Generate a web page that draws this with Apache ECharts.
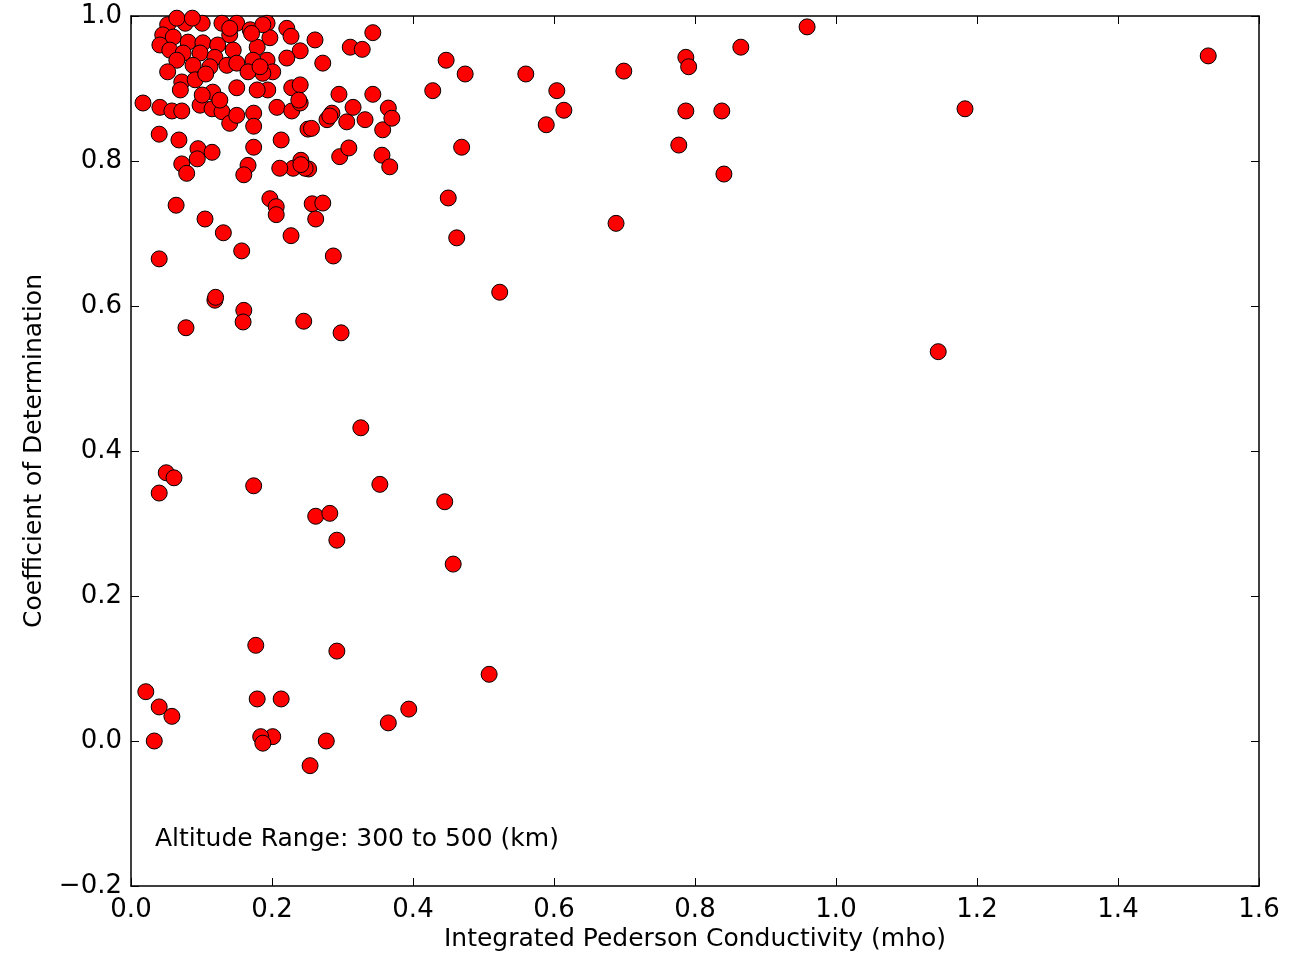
<html>
<head>
    <script src="https://cdn.jsdelivr.net/npm/echarts@6/dist/echarts.min.js"></script>
    <style>
        html, body { margin: 0; padding: 0; background: #fff; }
        #main { width: 1290px; height: 961px; }
    </style>
</head>
<body>
    <div id="main"></div>
    <script>
        // conductivity (mho) values
        var conductivity = [
            1.528, 1.183, 1.145, 0.959, 0.865, 0.787, 0.791, 0.699, 0.787, 0.838,
            0.777, 0.841, 0.688, 0.604, 0.560, 0.614, 0.589, 0.523, 0.447, 0.474,
            0.428, 0.469, 0.450, 0.462, 0.326, 0.353, 0.445, 0.457, 0.508, 0.394,
            0.365, 0.292, 0.277, 0.254, 0.213, 0.201, 0.184, 0.187, 0.179, 0.177,
            0.021, 0.040, 0.058, 0.033, 0.050, 0.061, 0.040, 0.174, 0.262, 0.282,
            0.292, 0.078, 0.119, 0.160, 0.159, 0.245, 0.298, 0.287, 0.040, 0.040,
            0.068, 0.095, 0.115, 0.094, 0.072, 0.079, 0.174, 0.166, 0.160, 0.213,
            0.230, 0.241, 0.252, 0.251, 0.296, 0.309, 0.356, 0.367, 0.357, 0.064,
            0.105, 0.131, 0.157, 0.197, 0.206, 0.206, 0.227, 0.257, 0.272, 0.262,
            0.120, 0.017, 0.041, 0.058, 0.072, 0.098, 0.115, 0.129, 0.140, 0.150,
            0.174, 0.174, 0.207, 0.228, 0.240, 0.278, 0.285, 0.306, 0.315, 0.332,
            0.365, 0.370, 0.193, 0.221, 0.227, 0.197, 0.261, 0.240, 0.221, 0.272,
            0.311, 0.328, 0.343, 0.193, 0.201, 0.187, 0.228, 0.240, 0.238, 0.194,
            0.295, 0.343, 0.052, 0.077, 0.101, 0.129, 0.150, 0.169, 0.187, 0.045,
            0.060, 0.081, 0.102, 0.123, 0.140, 0.041, 0.055, 0.074, 0.098, 0.119,
            0.145, 0.179, 0.065, 0.088, 0.112, 0.136, 0.150, 0.173, 0.052, 0.166,
            0.183, 0.072, 0.091, 0.116, 0.150, 0.179, 0.070, 0.101, 0.126, 0.106,
            0.247, 0.211, 0.241, 0.256, 0.282, 0.140, 0.171, 0.065, 0.087
        ];
        // coefficient of determination for each point
        var determination = [
            0.945, 0.872, 0.537, 0.985, 0.957, 0.943, 0.930, 0.924, 0.869, 0.869,
            0.822, 0.782, 0.714, 0.897, 0.920, 0.870, 0.850, 0.619, 0.939, 0.920,
            0.897, 0.819, 0.749, 0.694, 0.432, 0.354, 0.330, 0.244, 0.092, 0.044,
            0.025, 0.124, 0.000, -0.034, 0.058, 0.006, 0.006, -0.003, 0.058, 0.132,
            0.068, 0.047, 0.034, 0.000, 0.370, 0.363, 0.342, 0.352, 0.310, 0.314,
            0.277, 0.570, 0.608, 0.594, 0.578, 0.579, 0.563, 0.669, 0.665, 0.837,
            0.829, 0.817, 0.812, 0.803, 0.796, 0.783, 0.819, 0.794, 0.781, 0.829,
            0.790, 0.801, 0.789, 0.844, 0.806, 0.818, 0.808, 0.792, 0.843, 0.739,
            0.720, 0.701, 0.676, 0.748, 0.737, 0.726, 0.697, 0.741, 0.742, 0.720,
            0.612, 0.880, 0.874, 0.869, 0.869, 0.877, 0.872, 0.868, 0.852, 0.863,
            0.866, 0.848, 0.874, 0.869, 0.880, 0.857, 0.866, 0.854, 0.874, 0.857,
            0.873, 0.859, 0.990, 0.983, 0.972, 0.970, 0.967, 0.952, 0.942, 0.935,
            0.957, 0.954, 0.977, 0.939, 0.923, 0.921, 0.901, 0.905, 0.884, 0.898,
            0.892, 0.892, 0.988, 0.990, 0.990, 0.990, 0.990, 0.981, 0.988, 0.974,
            0.971, 0.964, 0.963, 0.960, 0.974, 0.960, 0.953, 0.949, 0.949, 0.943,
            0.953, 0.957, 0.939, 0.932, 0.930, 0.932, 0.935, 0.939, 0.923, 0.923,
            0.930, 0.909, 0.912, 0.895, 0.901, 0.898, 0.898, 0.891, 0.884, 0.920,
            0.790, 0.790, 0.795, 0.845, 0.862, 0.983, 0.976, 0.997, 0.997
        ];
        var xTicks = ['0.0', '0.2', '0.4', '0.6', '0.8', '1.0', '1.2', '1.4', '1.6'];
        var yTicks = ['\u22120.2', '0.0', '0.2', '0.4', '0.6', '0.8', '1.0'];

        var points = [];
        for (var i = 0; i < conductivity.length; i++) {
            points.push([conductivity[i], determination[i]]);
        }

        var font = 'DejaVu Sans';
        var myChart = echarts.init(document.getElementById('main'));
        var option = {
            animation: false,
            backgroundColor: '#fff',
            grid: { left: 131, right: 31, top: 16, bottom: 75, containLabel: false, outerBoundsMode: 'none' },
            xAxis: [
                {
                    type: 'value', min: 0, max: 1.6, interval: 0.2,
                    name: 'Integrated Pederson Conductivity (mho)',
                    nameLocation: 'middle', nameGap: 29, nameMoveOverlap: false,
                    nameTextStyle: { fontFamily: font, fontSize: 25, color: '#000' },
                    axisLine: { show: true, onZero: false, lineStyle: { color: '#000', width: 1.5 } },
                    axisTick: { inside: true, length: 8, lineStyle: { color: '#000' } },
                    axisLabel: {
                        margin: -2, fontFamily: font, fontSize: 26, color: '#000',
                        formatter: function (v) { return xTicks[Math.round(v / 0.2)]; }
                    },
                    splitLine: { show: false }
                },
                {
                    type: 'value', min: 0, max: 1.6, interval: 0.2, position: 'top',
                    axisLine: { show: true, onZero: false, lineStyle: { color: '#000', width: 1.5 } },
                    axisTick: { inside: true, length: 8, lineStyle: { color: '#000' } },
                    axisLabel: { show: false },
                    splitLine: { show: false }
                }
            ],
            yAxis: [
                {
                    type: 'value', min: -0.2, max: 1.0, interval: 0.2,
                    name: 'Coefficient of Determination',
                    nameLocation: 'middle', nameGap: 72, nameRotate: 90, nameMoveOverlap: false,
                    nameTextStyle: { fontFamily: font, fontSize: 25, color: '#000' },
                    axisLine: { show: true, onZero: false, lineStyle: { color: '#000', width: 1.5 } },
                    axisTick: { inside: true, length: 8, lineStyle: { color: '#000' } },
                    axisLabel: {
                        margin: 9, fontFamily: font, fontSize: 26, color: '#000',
                        formatter: function (v) { return yTicks[Math.round((v + 0.2) / 0.2)]; }
                    },
                    splitLine: { show: false }
                },
                {
                    type: 'value', min: -0.2, max: 1.0, interval: 0.2, position: 'right',
                    axisLine: { show: true, onZero: false, lineStyle: { color: '#000', width: 1.5 } },
                    axisTick: { inside: true, length: 8, lineStyle: { color: '#000' } },
                    axisLabel: { show: false },
                    splitLine: { show: false }
                }
            ],
            graphic: [
                {
                    type: 'text', left: 155, top: 815,
                    style: {
                        text: 'Altitude Range: 300 to 500 (km)',
                        font: '25px "DejaVu Sans"', fill: '#000'
                    }
                }
            ],
            series: [
                {
                    type: 'scatter',
                    data: points,
                    symbol: 'circle',
                    symbolSize: 16,
                    itemStyle: { color: '#ff0000', borderColor: '#000', borderWidth: 1, opacity: 1 }
                }
            ]
        };
        myChart.setOption(option);
    </script>
</body>
</html>
